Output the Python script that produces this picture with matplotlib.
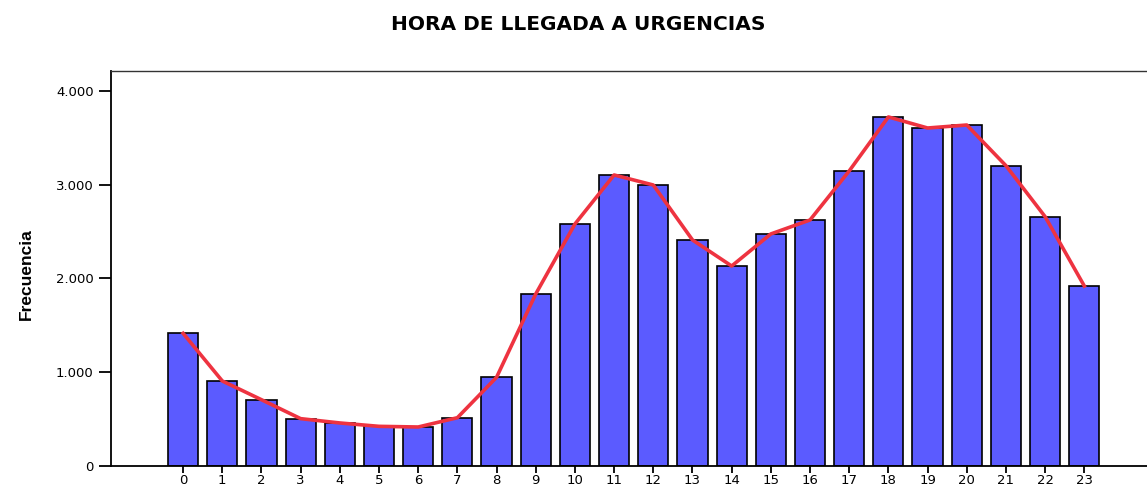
import matplotlib
matplotlib.use("Agg")
import matplotlib.pyplot as plt

hours = list(range(24))
hour_labels = [str(h) for h in hours]
frecuencia = [1415, 907, 707, 505, 459, 423, 416, 515, 946, 1835, 2581, 3104,
              2997, 2411, 2133, 2475, 2624, 3147, 3723, 3605, 3637, 3203, 2659, 1920]
yticks = [0, 1000, 2000, 3000, 4000]
ytick_labels = ["0", "1.000", "2.000", "3.000", "4.000"]

plt.rcParams['font.family'] = ['DejaVu Sans']

fig = plt.figure(figsize=(11.47, 4.86), dpi=100)
ax = fig.add_axes([111/1147, (486-466)/486, (1147-111)/1147, (466-71)/486])

ax.bar(hours, frecuencia, width=0.77, color="#5B5BFF", edgecolor="black", linewidth=1.2, zorder=2)
ax.plot(hours, frecuencia, color="#EE3340", linewidth=2.6, zorder=3)

ax.set_xlim(-1.84, 24.6)
ax.set_ylim(0, 4213)
ax.set_xticks(hours)
ax.set_xticklabels(hour_labels, fontsize=9.5)
ax.set_yticks(yticks)
ax.set_yticklabels(ytick_labels, fontsize=9.5)
ax.tick_params(axis='y', length=9, width=1.3, pad=3.5)
ax.tick_params(axis='x', length=5, width=1.3, pad=0.5)
ax.spines['right'].set_visible(False)
for s in ['left', 'bottom']:
    ax.spines[s].set_linewidth(1.3)
ax.spines['top'].set_linewidth(1.0)
ax.spines['top'].set_color('#333333')

ax.set_ylabel("Frecuencia", fontsize=12.5, fontweight='bold',
              family=['Liberation Sans Narrow', 'Liberation Sans', 'DejaVu Sans'])
ax.yaxis.set_label_coords(-0.0743, 0.486)

fig.text(578/1147, 1 - 24/486, "HORA DE LLEGADA A URGENCIAS", ha='center', va='center',
         fontsize=14.5, fontweight='bold')

fig.savefig("out.png", dpi=100)
